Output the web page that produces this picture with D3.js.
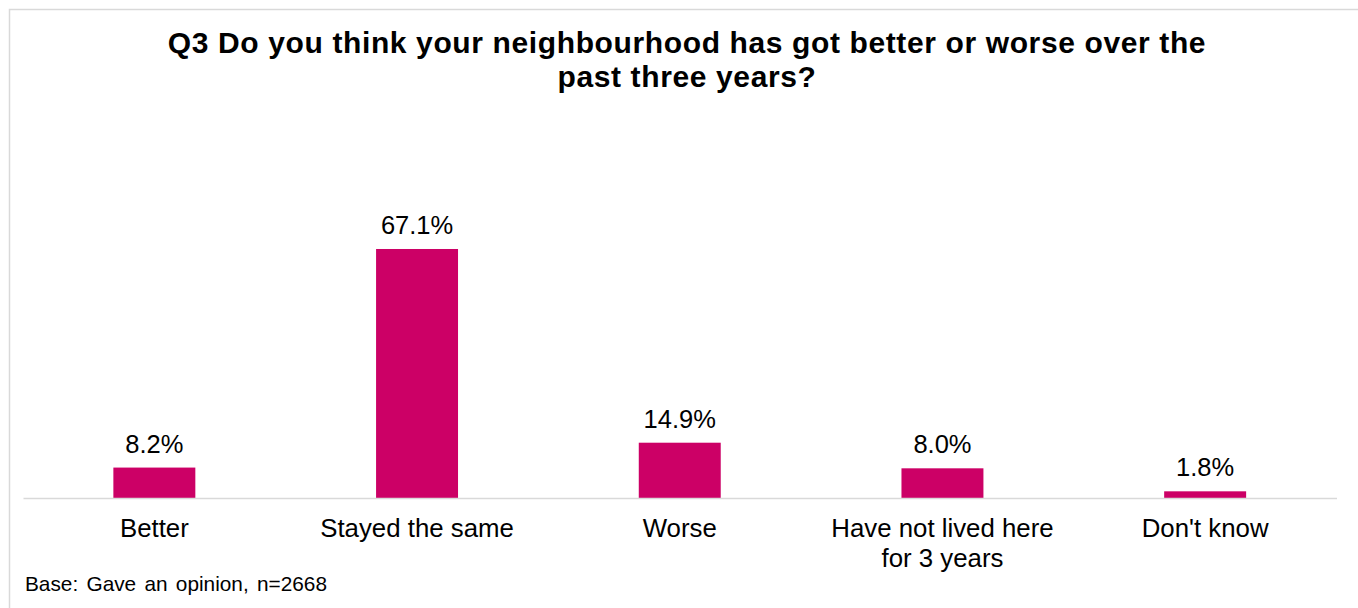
<!DOCTYPE html>
<html>
<head>
<meta charset="utf-8">
<script src="https://cdn.jsdelivr.net/npm/d3@7"></script>
<style>
  html, body { margin: 0; padding: 0; background: #fff; }
  svg { display: block; font-family: "Liberation Sans", Arial, sans-serif; }
</style>
</head>
<body>
<svg id="chart" width="1358" height="608"></svg>
<script>
const titleLines = ["Q3 Do you think your neighbourhood has got better or worse over the", "past three years?"];
const categories = [["Better"], ["Stayed the same"], ["Worse"], ["Have not lived here", "for 3 years"], ["Don't know"]];
const values = [8.2, 67.1, 14.9, 8.0, 1.8];
const baseNote = "Base: Gave an opinion, n=2668";

const svg = d3.select("#chart");
const x0 = 23, x1 = 1336.5, yBase = 498;

// frame
svg.append("rect").attr("x", 9.5).attr("y", 9.5).attr("width", 1400).attr("height", 700)
  .attr("fill", "none").attr("stroke", "#d9d9d9").attr("stroke-width", 1.5);

// title
svg.append("text").attr("text-anchor", "middle")
  .attr("font-size", 30).attr("font-weight", "bold").attr("letter-spacing", 0.62).attr("fill", "#000")
  .selectAll("tspan").data(titleLines).join("tspan")
  .attr("x", 687).attr("y", (d, i) => 53 + i * 33.5).text(d => d);

const idx = d3.range(values.length);
const x = d3.scaleBand().domain(idx).range([x0, x1]).paddingInner(0.688).paddingOuter(0.344);
const y = d3.scaleLinear().domain([0, 80]).range([yBase, yBase - 80 * 3.711]);

// bars
svg.append("g").selectAll("rect").data(idx).join("rect")
  .attr("x", i => x(i)).attr("width", x.bandwidth())
  .attr("y", i => y(values[i])).attr("height", i => y(0) - y(values[i]))
  .attr("fill", "#CC0066");

// axis line via d3 axis
const axis = d3.axisBottom(x).tickSize(0).tickFormat("");
const gAxis = svg.append("g").attr("transform", `translate(0,${yBase})`).call(axis);
gAxis.select(".domain").attr("stroke", "#d9d9d9").attr("stroke-width", 1.5);

// value labels
svg.append("g").selectAll("text").data(idx).join("text")
  .attr("x", i => x(i) + x.bandwidth() / 2).attr("y", i => y(values[i]) - 15)
  .attr("text-anchor", "middle").attr("font-size", 25.5).attr("fill", "#000")
  .text(i => values[i].toFixed(1) + "%");

// category labels
const cat = svg.append("g").selectAll("text").data(idx).join("text")
  .attr("text-anchor", "middle").attr("font-size", 25.8).attr("fill", "#000");
cat.selectAll("tspan").data(i => categories[i].map(t => ({ i, t }))).join("tspan")
  .attr("x", d => x(d.i) + x.bandwidth() / 2)
  .attr("y", (d, k) => 537 + k * 29.5)
  .text(d => d.t);

// base note
svg.append("text").attr("x", 25).attr("y", 591).attr("font-size", 20.8).attr("word-spacing", 2.5)
  .attr("fill", "#000").text(baseNote);
</script>
</body>
</html>
